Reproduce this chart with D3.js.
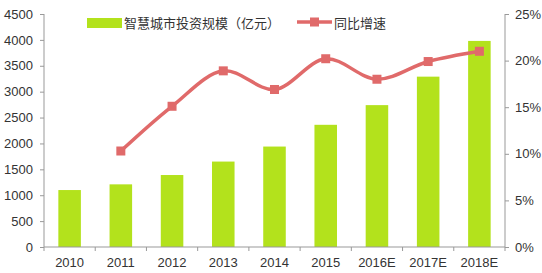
<!DOCTYPE html>
<html>
<head>
<meta charset="utf-8">
<script src="https://cdn.jsdelivr.net/npm/d3@7/dist/d3.min.js"></script>
<style>
  body { margin: 0; background: #fff; }
  text { font-family: "Liberation Sans", Arial, sans-serif; }
</style>
</head>
<body>
<div id="chart"></div>
<script>
var years = ['2010', '2011', '2012', '2013', '2014', '2015', '2016E', '2017E', '2018E'];
var investment = [1100, 1210, 1390, 1650, 1940, 2360, 2740, 3290, 3980];
var growthYears = ['2011', '2012', '2013', '2014', '2015', '2016E', '2017E', '2018E'];
var growth = [10.3, 15.1, 18.9, 16.9, 20.2, 18.0, 19.9, 21.0];
var leftTicks = [0, 500, 1000, 1500, 2000, 2500, 3000, 3500, 4000, 4500];
var rightTicks = [0, 5, 10, 15, 20, 25];

var w = 542, h = 273;
// note: "top" is a reserved window global, so use plot* names
var plotLeft = 44, plotRight = 505, plotTop = 14, plotBottom = 247;
var barColor = '#b3e21c', lineColor = '#e06a6a', axisColor = '#999', textColor = '#333';

var svg = d3.select('#chart').append('svg')
    .attr('width', w)
    .attr('height', h);

var x = d3.scaleBand().domain(years).range([plotLeft, plotRight]).paddingInner(0.56).paddingOuter(0.28);
var y = d3.scaleLinear().domain([0, 4500]).range([plotBottom, plotTop]);
var y2 = d3.scaleLinear().domain([0, 25]).range([plotBottom, plotTop]);

// bars
svg.selectAll('rect.bar')
    .data(investment)
    .enter()
    .append('rect')
    .attr('class', 'bar')
    .attr('x', function (d, i) { return x(years[i]); })
    .attr('y', function (d) { return y(d); })
    .attr('width', x.bandwidth())
    .attr('height', function (d) { return plotBottom - y(d); })
    .attr('fill', barColor);

// left axis
var yAxis = svg.append('g')
    .attr('transform', 'translate(' + plotLeft + ',0)')
    .call(d3.axisLeft(y).tickValues(leftTicks).tickSize(4).tickPadding(7)
        .tickFormat(d3.format('d')));

// right axis
var y2Axis = svg.append('g')
    .attr('transform', 'translate(' + plotRight + ',0)')
    .call(d3.axisRight(y2).tickValues(rightTicks).tickSize(4).tickPadding(6)
        .tickFormat(function (d) { return d + '%'; }));

// bottom axis, ticks between categories
var xAxis = svg.append('g')
    .attr('transform', 'translate(0,' + plotBottom + ')');
xAxis.append('line')
    .attr('x1', plotLeft).attr('x2', plotRight)
    .attr('stroke', axisColor);
xAxis.selectAll('line.tick')
    .data(d3.range(years.length + 1))
    .enter()
    .append('line')
    .attr('class', 'tick')
    .attr('x1', function (i) { return plotLeft + i * x.step(); })
    .attr('x2', function (i) { return plotLeft + i * x.step(); })
    .attr('y1', 0).attr('y2', 4)
    .attr('stroke', axisColor);
xAxis.selectAll('text')
    .data(years)
    .enter()
    .append('text')
    .attr('x', function (d) { return x(d) + x.bandwidth() / 2; })
    .attr('y', 20)
    .attr('text-anchor', 'middle')
    .attr('font-size', 13)
    .attr('fill', textColor)
    .text(function (d) { return d; });

[yAxis, y2Axis].forEach(function (g) {
    g.select('.domain').attr('stroke', axisColor).attr('d', 'M0,' + plotTop + 'V' + plotBottom);
    g.selectAll('.tick line').attr('stroke', axisColor);
    g.selectAll('.tick text').attr('font-size', 13).attr('fill', textColor)
        .style('font-family', '"Liberation Sans", Arial, sans-serif');
});

// growth line
var cx = function (d, i) { return x(growthYears[i]) + x.bandwidth() / 2; };
var line = d3.line()
    .x(cx)
    .y(function (d) { return y2(d); })
    .curve(d3.curveCatmullRom.alpha(0.5));

svg.append('path')
    .datum(growth)
    .attr('d', line)
    .attr('fill', 'none')
    .attr('stroke', lineColor)
    .attr('stroke-width', 3.5);

svg.selectAll('rect.marker')
    .data(growth)
    .enter()
    .append('rect')
    .attr('class', 'marker')
    .attr('x', function (d, i) { return cx(d, i) - 4.5; })
    .attr('y', function (d) { return y2(d) - 4.5; })
    .attr('width', 9)
    .attr('height', 9)
    .attr('fill', lineColor);

// legend
var legend = svg.append('g');
legend.append('rect')
    .attr('x', 87).attr('y', 18).attr('width', 35).attr('height', 10)
    .attr('fill', barColor);
legend.append('text')
    .attr('x', 124).attr('y', 28)
    .attr('font-size', 13)
    .attr('fill', textColor)
    .style('font-family', '"Noto Sans CJK SC", sans-serif')
    .text('智慧城市投资规模（亿元）');
legend.append('line')
    .attr('x1', 297).attr('x2', 332).attr('y1', 22).attr('y2', 22)
    .attr('stroke', lineColor).attr('stroke-width', 3.5);
legend.append('rect')
    .attr('x', 310).attr('y', 17.5).attr('width', 9).attr('height', 9)
    .attr('fill', lineColor);
legend.append('text')
    .attr('x', 334).attr('y', 28)
    .attr('font-size', 13)
    .attr('fill', textColor)
    .style('font-family', '"Noto Sans CJK SC", sans-serif')
    .text('同比增速');
</script>
</body>
</html>
